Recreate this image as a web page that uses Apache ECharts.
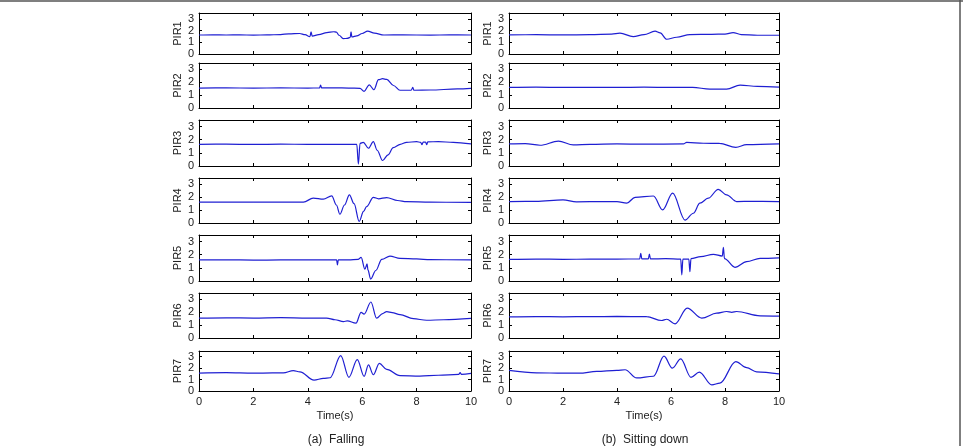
<!DOCTYPE html>
<html>
<head>
<meta charset="utf-8">
<script src="https://cdn.jsdelivr.net/npm/echarts@6/dist/echarts.min.js"></script>
<style>
  html, body { margin: 0; padding: 0; background: #fff; }
  #chart { width: 963px; height: 446px; }
</style>
</head>
<body>
<div id="chart"></div>
<script>
// sensor names and tick values
const sensorNames = ['PIR1', 'PIR2', 'PIR3', 'PIR4', 'PIR5', 'PIR6', 'PIR7'];
const xTickStep = 2;
const yTickStep = 1;
const captions = ['(a)  Falling', '(b)  Sitting down'];

// (a) Falling — [time (s), value]
const fallingPIR1 = [[0,1.62],[0.5,1.64],[1,1.62],[1.5,1.63],[2,1.61],[2.5,1.63],[3,1.66],[3.3,1.72],[3.7,1.75],[3.9,1.65],[4.08,1.48],[4.12,1.9],[4.16,1.52],[4.4,1.65],[4.7,1.82],[4.95,1.9],[5.05,1.87],[5.15,1.6],[5.3,1.32],[5.45,1.33],[5.56,1.42],[5.59,1.9],[5.62,1.45],[5.8,1.55],[6.0,1.75],[6.2,1.95],[6.45,1.78],[6.8,1.62],[7.5,1.63],[8.5,1.61],[9.2,1.63],[10,1.62]];
const fallingPIR2 = [[0,1.55],[1,1.56],[2,1.55],[3,1.56],[4,1.55],[4.43,1.56],[4.47,1.78],[4.51,1.56],[5,1.57],[5.5,1.55],[5.92,1.53],[6.07,1.3],[6.26,1.8],[6.43,1.42],[6.6,2.2],[6.75,2.28],[6.9,2.22],[7.15,1.75],[7.39,1.38],[7.8,1.38],[7.86,1.6],[7.9,1.38],[8.5,1.4],[9.5,1.48],[10,1.52]];
const fallingPIR3 = [[0,1.65],[1,1.66],[2,1.64],[3,1.66],[4,1.65],[5,1.64],[5.8,1.65],[5.86,0.15],[5.92,1.72],[6.04,1.8],[6.23,1.35],[6.41,1.85],[6.55,1.2],[6.75,0.42],[6.95,0.85],[7.14,1.4],[7.4,1.65],[7.63,1.8],[8.0,1.85],[8.15,1.8],[8.2,1.62],[8.24,1.82],[8.33,1.82],[8.37,1.62],[8.41,1.84],[8.8,1.85],[9.35,1.8],[10,1.68]];
const fallingPIR4 = [[0,1.62],[1,1.63],[2,1.62],[3,1.63],[3.84,1.63],[4.2,1.93],[4.57,1.85],[4.88,2.11],[5.05,1.4],[5.18,0.68],[5.35,1.4],[5.53,2.19],[5.7,1.5],[5.89,0.12],[6.05,0.9],[6.16,1.28],[6.41,2.0],[6.6,1.88],[6.9,1.98],[7.3,1.75],[7.63,1.66],[8.5,1.62],[10,1.6]];
const fallingPIR5 = [[0,1.6],[1,1.61],[2,1.59],[3,1.6],[4,1.6],[5.06,1.6],[5.09,1.22],[5.12,1.6],[5.5,1.6],[5.85,1.65],[5.96,1.8],[6.1,0.9],[6.18,1.3],[6.21,0.85],[6.31,0.15],[6.5,0.8],[6.72,1.65],[7.02,1.9],[7.39,1.72],[8.0,1.68],[8.5,1.62],[10,1.6]];
const fallingPIR6 = [[0,1.55],[1,1.57],[2,1.55],[3,1.58],[4,1.55],[4.69,1.55],[5.0,1.42],[5.31,1.28],[5.45,1.33],[5.77,1.15],[5.96,2.0],[6.07,1.85],[6.32,2.8],[6.53,1.54],[6.75,1.9],[6.9,2.05],[7.1,1.98],[7.39,1.82],[7.88,1.5],[8.37,1.38],[9,1.42],[10,1.52]];
const fallingPIR7 = [[0,1.56],[1,1.6],[2,1.56],[2.7,1.58],[3.1,1.58],[3.47,1.78],[3.71,1.68],[4.23,0.95],[4.57,1.1],[4.82,1.16],[5.21,3.1],[5.51,1.2],[5.82,2.75],[6.07,1.28],[6.23,2.28],[6.41,1.42],[6.63,2.42],[6.9,1.9],[7.39,1.35],[8.12,1.3],[8.8,1.38],[9.55,1.45],[9.6,1.6],[9.65,1.45],[10,1.55]];

// (b) Sitting down — [time (s), value]
const sittingPIR1 = [[0,1.63],[1,1.65],[2,1.63],[3,1.65],[3.8,1.7],[4.11,1.78],[4.6,1.48],[5.0,1.65],[5.41,1.95],[5.6,1.8],[5.84,1.26],[6.21,1.43],[6.7,1.66],[7.5,1.68],[8.0,1.7],[8.3,1.83],[8.6,1.66],[9.2,1.6],[10,1.6]];
const sittingPIR2 = [[0,1.6],[1,1.62],[2,1.6],[3,1.61],[4,1.6],[5,1.62],[6,1.6],[6.8,1.6],[7.44,1.47],[8.06,1.47],[8.56,1.78],[9.2,1.68],[10,1.63]];
const sittingPIR3 = [[0,1.68],[0.6,1.7],[1.15,1.58],[1.83,1.89],[2.38,1.6],[3,1.65],[4,1.68],[5,1.66],[6.46,1.68],[6.58,1.8],[7.2,1.73],[7.8,1.72],[8.4,1.42],[8.8,1.62],[10,1.68]];
const sittingPIR4 = [[0,1.67],[1,1.68],[2.0,1.8],[2.5,1.65],[3.5,1.66],[4.0,1.66],[4.36,1.54],[4.67,2.0],[5.35,2.1],[5.69,1.02],[6.06,2.32],[6.52,0.23],[6.83,0.76],[7.07,1.54],[7.38,1.93],[7.75,2.62],[8.06,2.19],[8.43,1.67],[9,1.68],[10,1.67]];
const sittingPIR5 = [[0,1.65],[1,1.67],[2,1.65],[3,1.66],[4,1.67],[4.84,1.68],[4.88,2.1],[4.92,1.68],[5.16,1.68],[5.2,2.05],[5.24,1.68],[5.8,1.7],[6.36,1.66],[6.4,0.46],[6.44,1.66],[6.66,1.66],[6.7,0.71],[6.74,1.7],[7.1,1.85],[7.57,2.03],[7.9,1.9],[7.94,2.56],[7.98,1.7],[8.37,1.04],[8.8,1.47],[9.3,1.72],[10,1.76]];
const sittingPIR6 = [[0,1.65],[1,1.67],[2,1.65],[3,1.66],[4,1.68],[5.1,1.66],[5.65,1.36],[5.84,1.46],[6.15,1.1],[6.6,2.32],[7.14,1.54],[7.69,1.93],[8.06,2.06],[8.25,2.0],[8.43,2.06],[9.3,1.72],[10,1.7]];
const sittingPIR7 = [[0,1.8],[1.02,1.59],[2.0,1.56],[2.6,1.56],[3.25,1.71],[3.99,1.8],[4.3,1.86],[4.73,1.14],[5.35,1.29],[5.74,3.05],[6.05,2.0],[6.36,2.81],[6.74,1.2],[7.05,1.65],[7.51,0.54],[7.81,0.69],[8.4,2.57],[8.8,2.04],[9.17,1.68],[10,1.5]];

const fallingSeries = [fallingPIR1, fallingPIR2, fallingPIR3, fallingPIR4, fallingPIR5, fallingPIR6, fallingPIR7];
const sittingSeries = [sittingPIR1, sittingPIR2, sittingPIR3, sittingPIR4, sittingPIR5, sittingPIR6, sittingPIR7];

// layout
const colLeft = [199, 509];
const colWidth = [272, 270];
const rowTop = [13, 63, 120, 178, 235, 293, 351];
const rowHeight = [41, 45, 46, 45, 46, 45, 40];
const font = 'Liberation Sans, Arial, sans-serif';
const textColor = '#222';

const grid = [], xAxis = [], yAxis = [], series = [];

[fallingSeries, sittingSeries].forEach((group, c) => {
  group.forEach((data, r) => {
    const gi = grid.length;
    const isLast = r === sensorNames.length - 1;
    grid.push({
      left: colLeft[c], top: rowTop[r], width: colWidth[c], height: rowHeight[r],
      show: false
    });
    const axisLine = { show: true, onZero: false, lineStyle: { color: '#000', width: 1 } };
    const tick = { show: true, inside: true, length: 3, lineStyle: { color: '#000' } };
    // bottom x axis
    xAxis.push({
      type: 'value', gridIndex: gi, min: 0, max: 10, interval: xTickStep,
      position: 'bottom',
      axisLine, axisTick: tick, splitLine: { show: false },
      axisLabel: { show: isLast, margin: 5, fontSize: 11, color: textColor, fontFamily: font },
      name: isLast ? 'Time(s)' : '', nameLocation: 'middle', nameGap: 19,
      nameTextStyle: { fontSize: 11, color: textColor, fontFamily: font }
    });
    // top x axis (ticks only)
    xAxis.push({
      type: 'value', gridIndex: gi, min: 0, max: 10, interval: xTickStep,
      position: 'top',
      axisLine, axisTick: tick, splitLine: { show: false }, axisLabel: { show: false }
    });
    // left y axis
    yAxis.push({
      type: 'value', gridIndex: gi, min: 0, max: 3.5, interval: yTickStep,
      position: 'left',
      axisLine, axisTick: tick, splitLine: { show: false },
      axisLabel: {
        margin: 5, fontSize: 11, color: textColor, fontFamily: font, showMaxLabel: false,
        formatter: v => (v % 1 === 0 ? String(v) : '')
      },
      name: sensorNames[r], nameLocation: 'middle', nameGap: 16,
      nameTextStyle: { fontSize: 11, color: textColor, fontFamily: font }
    });
    // right y axis (ticks only)
    yAxis.push({
      type: 'value', gridIndex: gi, min: 0, max: 3.5, interval: yTickStep,
      position: 'right',
      axisLine, axisTick: tick, splitLine: { show: false }, axisLabel: { show: false }
    });
    series.push({
      type: 'line',
      xAxisIndex: gi * 2, yAxisIndex: gi * 2,
      data: data,
      showSymbol: false, smooth: 0.35, smoothMonotone: 'x',
      lineStyle: { color: '#1f1fd2', width: 1.2 },
      animation: false, silent: true
    });
  });
});

const chart = echarts.init(document.getElementById('chart'), null, { renderer: 'canvas' });
chart.setOption({
  backgroundColor: '#fff',
  animation: false,
  title: [
    { text: captions[0], left: 331, top: 429, textAlign: 'center',
      textStyle: { fontSize: 12, fontWeight: 'normal', color: textColor, fontFamily: font } },
    { text: captions[1], left: 640, top: 429, textAlign: 'center',
      textStyle: { fontSize: 12, fontWeight: 'normal', color: textColor, fontFamily: font } }
  ],
  graphic: [
    { type: 'line', shape: { x1: 0, y1: 1, x2: 963, y2: 1 }, style: { stroke: '#555', lineWidth: 1.5 } },
    { type: 'line', shape: { x1: 960, y1: 0, x2: 960, y2: 446 }, style: { stroke: '#555', lineWidth: 1.5 } }
  ],
  grid, xAxis, yAxis, series
});

window.addEventListener('resize', () => chart.resize());
</script>
</body>
</html>
